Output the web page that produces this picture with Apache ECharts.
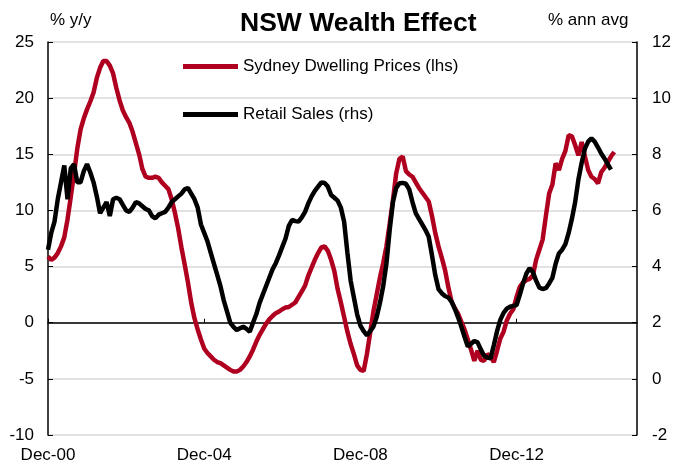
<!DOCTYPE html>
<html>
<head>
<meta charset="utf-8">
<script src="https://cdn.jsdelivr.net/npm/echarts@6/dist/echarts.min.js"></script>
<style>
  html, body { margin: 0; padding: 0; background: #fff; }
  #chart { width: 675px; height: 466px; }
</style>
</head>
<body>
<div id="chart"></div>
<script>
// monthly, Dec-00 .. Jan-16
const monthNames = ["Jan", "Feb", "Mar", "Apr", "May", "Jun", "Jul", "Aug", "Sep", "Oct", "Nov", "Dec"];
const categories = [];
for (let i = 0; i < 182; i++) {
  const mi = (11 + i) % 12;
  const yr = 2000 + Math.floor((11 + i) / 12);
  categories.push(monthNames[mi] + "-" + String(yr % 100).padStart(2, "0"));
}

// Sydney Dwelling Prices, % y/y (lhs)
const dwellingPrices = [
  5.9, 5.6, 5.8, 6.2, 6.8, 7.6, 9.2, 11.2, 13.3, 15.5, 17.2, 18.2,
  19.0, 19.7, 20.5, 21.8, 22.7, 23.3, 23.3, 22.9, 22.2, 20.9, 19.8, 18.9,
  18.3, 17.8, 17.0, 16.0, 15.0, 13.7, 13.0, 12.9, 12.9, 13.0, 12.9, 12.5,
  12.2, 11.9, 11.0, 9.8, 8.4, 6.7, 5.2, 3.6, 1.8, 0.4, -0.6, -1.5,
  -2.3, -2.7, -3.0, -3.3, -3.5, -3.6, -3.8, -4.0, -4.2, -4.35, -4.35, -4.2,
  -3.9, -3.5, -3.0, -2.4, -1.7, -1.1, -0.6, -0.1, 0.3, 0.6, 0.85, 1.0,
  1.2, 1.35, 1.4, 1.6, 1.8, 2.3, 2.8, 3.3, 4.2, 4.9, 5.6, 6.2,
  6.7, 6.8, 6.4, 5.6, 4.6, 3.0, 1.8, 0.5, -0.8, -1.9, -2.8, -3.8,
  -4.2, -4.3, -2.8, -0.9, 1.0, 2.5, 4.0, 5.3, 6.8, 8.8, 10.9, 13.3,
  14.6, 14.8, 13.5, 13.2, 13.0, 12.5, 12.0, 11.6, 11.2, 10.8, 9.5, 8.0,
  6.8, 5.8, 4.7, 3.2, 1.9, 1.3, 0.8, 0.1, -0.6, -1.5, -2.4, -3.4,
  -2.5, -3.3, -3.4, -2.8, -3.0, -3.5, -2.5, -1.4, -0.8, 0.2, 0.8, 1.2,
  2.3, 3.2, 3.6, 3.8, 3.9, 4.2, 5.6, 6.5, 7.4, 9.5, 11.5, 12.3,
  14.2, 13.6, 14.6, 15.3, 16.7, 16.6, 15.8, 14.9, 16.1, 14.8, 13.6, 13.0,
  12.8, 12.4, 13.4, 13.8, 14.3, 14.8, 15.2
];

// Retail Sales, % ann avg (rhs)
const retailSales = [
  4.6, 5.2, 5.6, 6.4, 7.0, 7.6, 6.4, 7.5, 7.65, 7.0, 7.0, 7.4,
  7.65, 7.35, 7.0, 6.5, 5.9, 6.1, 6.3, 5.8, 6.4, 6.45, 6.4, 6.2,
  6.0, 5.95, 6.1, 6.3, 6.25, 6.15, 6.05, 6.0, 5.8, 5.72, 5.85, 5.9,
  5.95, 6.1, 6.3, 6.4, 6.5, 6.6, 6.75, 6.8, 6.6, 6.4, 6.1, 5.5,
  5.2, 4.9, 4.5, 4.1, 3.7, 3.3, 2.8, 2.4, 2.0, 1.85, 1.74, 1.8,
  1.86, 1.78, 1.68, 2.0, 2.3, 2.7, 3.0, 3.3, 3.6, 3.9, 4.12, 4.4,
  4.7, 5.0, 5.45, 5.66, 5.62, 5.6, 5.75, 5.95, 6.25, 6.5, 6.7, 6.85,
  7.0, 6.98, 6.85, 6.55, 6.45, 6.35, 6.1, 5.6, 4.5, 3.5, 2.9, 2.3,
  1.9, 1.7, 1.55, 1.7, 1.86, 2.2, 2.7, 3.3, 4.1, 5.3, 6.3, 6.8,
  6.97, 6.98, 6.95, 6.75, 6.3, 5.9, 5.7, 5.5, 5.3, 5.06, 4.4, 3.7,
  3.2, 3.05, 2.95, 2.9, 2.75, 2.5, 2.2, 1.86, 1.5, 1.15, 1.25, 1.35,
  1.3, 1.05, 0.82, 0.76, 0.73, 1.2, 1.7, 2.1, 2.35, 2.5, 2.57, 2.6,
  2.63, 3.0, 3.4, 3.75, 3.94, 3.8, 3.5, 3.25, 3.2, 3.23, 3.4, 3.6,
  4.1, 4.47, 4.6, 4.8, 5.2, 5.7, 6.3, 7.1, 7.7, 8.2, 8.45, 8.57,
  8.45, 8.25, 8.03, 7.85, 7.65, 7.45
];

const leftTicks = { min: -10, max: 25, step: 5 };
const rightTicks = { min: -2, max: 12, step: 2 };

const redName = "Sydney Dwelling Prices (lhs)";
const blackName = "Retail Sales (rhs)";
const RED = "#B00020";
const FONT = "Liberation Sans, Arial, sans-serif";

const chart = echarts.init(document.getElementById("chart"), null, { renderer: "canvas" });

const option = {
  animation: false,
  backgroundColor: "#fff",
  textStyle: { fontFamily: FONT, color: "#000" },
  title: [
    {
      text: "NSW Wealth Effect",
      left: 240,
      top: 10,
      padding: 0,
      textStyle: { fontFamily: FONT, fontSize: 26.5, fontWeight: "bold", color: "#000" }
    },
    {
      text: "% y/y",
      left: 50,
      top: 12,
      padding: 0,
      textStyle: { fontFamily: FONT, fontSize: 17, fontWeight: "normal", color: "#000" }
    },
    {
      text: "% ann avg",
      left: 548,
      top: 12,
      padding: 0,
      textStyle: { fontFamily: FONT, fontSize: 17, fontWeight: "normal", color: "#000" }
    }
  ],
  legend: [
    {
      data: [redName],
      left: 183,
      top: 58,
      padding: 0,
      icon: "rect",
      itemWidth: 55,
      itemHeight: 5,
      itemGap: 0,
      textStyle: { fontFamily: FONT, fontSize: 17, color: "#000" }
    },
    {
      data: [blackName],
      left: 183,
      top: 106,
      padding: 0,
      icon: "rect",
      itemWidth: 55,
      itemHeight: 5,
      itemGap: 0,
      textStyle: { fontFamily: FONT, fontSize: 17, color: "#000" }
    }
  ],
  grid: { left: 48, right: 38, top: 42, bottom: 31 },
  xAxis: [
    {
      type: "category",
      data: categories,
      boundaryGap: false,
      axisLine: { show: false, onZero: false },
      axisTick: { show: false },
      axisLabel: { interval: 47, fontSize: 17, color: "#000", margin: 12, fontFamily: FONT },
      splitLine: { show: false }
    },
    {
      type: "category",
      data: categories,
      boundaryGap: false,
      position: "bottom",
      axisLine: { show: true, onZero: true, lineStyle: { color: "#000", width: 1.5 } },
      axisTick: { show: true, inside: true, interval: 47, length: 4, lineStyle: { color: "#000" } },
      axisLabel: { show: false },
      splitLine: { show: false }
    }
  ],
  yAxis: [
    {
      type: "value",
      min: leftTicks.min,
      max: leftTicks.max,
      interval: leftTicks.step,
      position: "left",
      axisLine: { show: true, lineStyle: { color: "#000", width: 1.5 } },
      axisTick: { show: true, inside: true, length: 5, lineStyle: { color: "#000" } },
      axisLabel: { fontSize: 17, color: "#000", margin: 14, fontFamily: FONT },
      splitLine: { show: true, lineStyle: { color: "#d9d9d9", width: 1.5 } }
    },
    {
      type: "value",
      min: rightTicks.min,
      max: rightTicks.max,
      interval: rightTicks.step,
      position: "right",
      axisLine: { show: true, lineStyle: { color: "#000", width: 1.5 } },
      axisTick: { show: true, inside: true, length: 5, lineStyle: { color: "#000" } },
      axisLabel: { fontSize: 17, color: "#000", margin: 15, fontFamily: FONT },
      splitLine: { show: false }
    }
  ],
  series: [
    {
      name: redName,
      type: "line",
      xAxisIndex: 0,
      yAxisIndex: 0,
      data: dwellingPrices,
      showSymbol: false,
      symbol: "none",
      itemStyle: { color: RED },
      lineStyle: { color: RED, width: 4.5 }
    },
    {
      name: blackName,
      type: "line",
      xAxisIndex: 0,
      yAxisIndex: 1,
      data: retailSales,
      showSymbol: false,
      symbol: "none",
      itemStyle: { color: "#000" },
      lineStyle: { color: "#000", width: 4.5 }
    }
  ]
};

chart.setOption(option);
</script>
</body>
</html>
